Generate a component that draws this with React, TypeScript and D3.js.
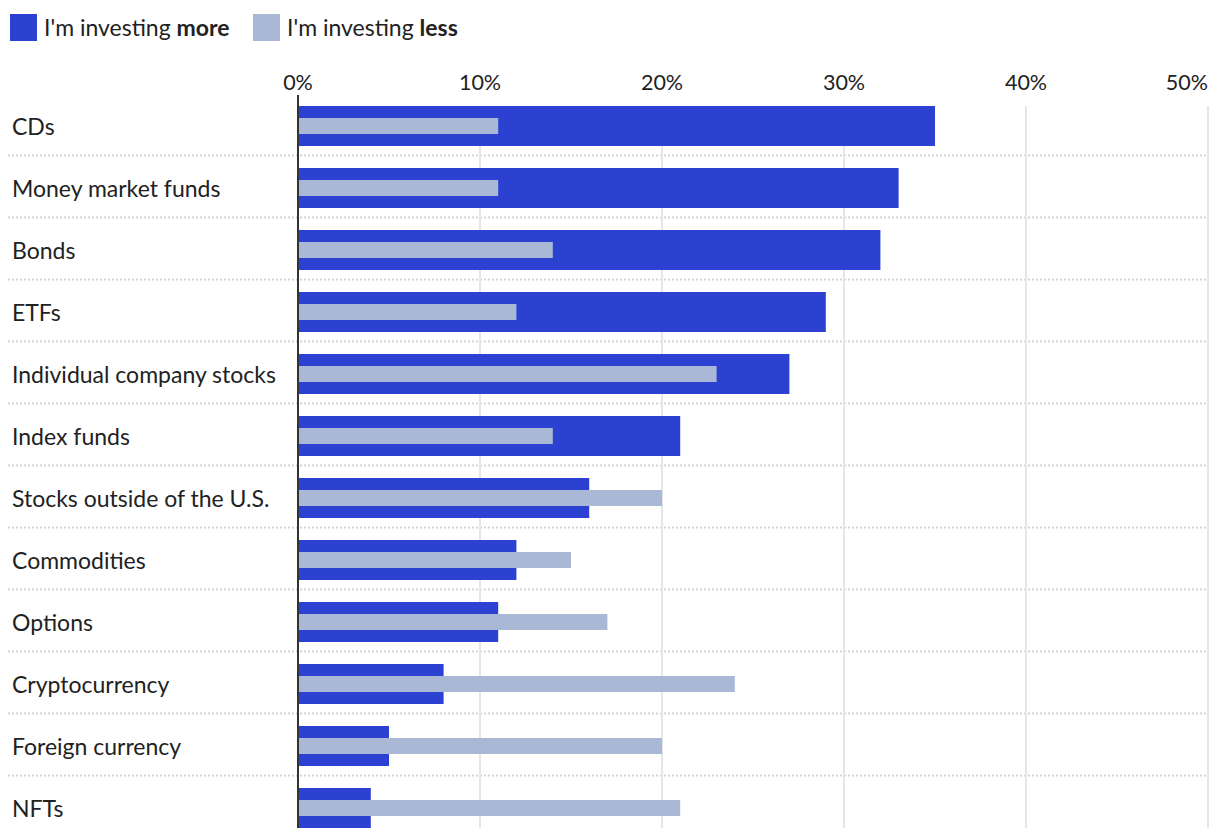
import React, { useEffect, useRef } from "react";
import * as d3 from "d3";

const categories = [
  "CDs",
  "Money market funds",
  "Bonds",
  "ETFs",
  "Individual company stocks",
  "Index funds",
  "Stocks outside of the U.S.",
  "Commodities",
  "Options",
  "Cryptocurrency",
  "Foreign currency",
  "NFTs",
];
const moreValues = [35, 33, 32, 29, 27, 21, 16, 12, 11, 8, 5, 4];
const lessValues = [11, 11, 14, 12, 23, 14, 20, 15, 17, 24, 20, 21];
const ticks = [0, 10, 20, 30, 40, 50];

const DARK = "#2C40D1";
const LIGHT = "#A9B9D5";
const FONT = "'Source Sans Pro', Lato, 'Open Sans', sans-serif";

const App: React.FC = () => {
  const ref = useRef<SVGSVGElement | null>(null);

  useEffect(() => {
    const svg = d3.select(ref.current);
    svg.selectAll("*").remove();

    const x = d3.scaleLinear().domain([0, 50]).range([298, 1208]);
    const y = d3.scaleBand().domain(categories).range([95, 839]).padding(0);

    svg.attr("font-family", FONT);

    // legend
    const legend = svg.append("g");
    const items = [
      { color: DARK, bold: "more", x: 10 },
      { color: LIGHT, bold: "less", x: 253 },
    ];
    items.forEach((it) => {
      legend
        .append("rect")
        .attr("x", it.x)
        .attr("y", 14)
        .attr("width", 27)
        .attr("height", 27)
        .attr("fill", it.color);
      const t = legend
        .append("text")
        .attr("x", it.x + 34)
        .attr("y", 36)
        .attr("font-size", 23)
        .attr("fill", "#222");
      t.append("tspan").text("I'm investing ");
      t.append("tspan").attr("font-weight", "bold").text(it.bold);
    });

    // row separators
    svg
      .append("g")
      .selectAll("line")
      .data(categories.slice(1))
      .enter()
      .append("line")
      .attr("x1", 0)
      .attr("x2", 1208)
      .attr("y1", (d) => (y(d) || 0) - 1.5)
      .attr("y2", (d) => (y(d) || 0) - 1.5)
      .attr("stroke", "#d4d4d4")
      .attr("stroke-width", 2)
      .attr("stroke-dasharray", "2,2");

    // gridlines
    svg
      .append("g")
      .selectAll("line")
      .data(ticks.slice(1))
      .enter()
      .append("line")
      .attr("x1", (d) => x(d))
      .attr("x2", (d) => x(d))
      .attr("y1", 106)
      .attr("y2", 828)
      .attr("stroke", "#e6e6e6")
      .attr("stroke-width", 2);

    // tick labels
    svg
      .append("g")
      .selectAll("text")
      .data(ticks)
      .enter()
      .append("text")
      .attr("x", (d) => x(d))
      .attr("y", 90)
      .attr("text-anchor", (d, i) => (i === ticks.length - 1 ? "end" : "middle"))
      .attr("font-size", 21.5)
      .attr("fill", "#222")
      .text((d) => `${d}%`);

    const bw = y.bandwidth();
    const rows = categories.map((c, i) => ({
      c,
      more: moreValues[i],
      less: lessValues[i],
    }));

    // category labels
    svg
      .append("g")
      .selectAll("text")
      .data(rows)
      .enter()
      .append("text")
      .attr("x", 12)
      .attr("y", (d) => (y(d.c) || 0) + bw / 2 + 0.5)
      .attr("dy", "0.35em")
      .attr("font-size", 23)
      .attr("fill", "#222")
      .text((d) => d.c);

    // bars
    const g = svg.append("g");
    g.selectAll(".more")
      .data(rows)
      .enter()
      .append("rect")
      .attr("class", "more")
      .attr("x", x(0))
      .attr("y", (d) => (y(d.c) || 0) + 11)
      .attr("width", (d) => x(d.more) - x(0))
      .attr("height", 40)
      .attr("fill", DARK);
    g.selectAll(".less")
      .data(rows)
      .enter()
      .append("rect")
      .attr("class", "less")
      .attr("x", x(0))
      .attr("y", (d) => (y(d.c) || 0) + 23)
      .attr("width", (d) => x(d.less) - x(0))
      .attr("height", 16)
      .attr("fill", LIGHT);

    // zero axis
    svg
      .append("line")
      .attr("x1", x(0))
      .attr("x2", x(0))
      .attr("y1", 95)
      .attr("y2", 828)
      .attr("stroke", "#333")
      .attr("stroke-width", 2);
  }, []);

  return (
    <div style={{ margin: -8 }}>
      <svg ref={ref} width={1220} height={840} style={{ display: "block" }} />
    </div>
  );
};

export default App;
